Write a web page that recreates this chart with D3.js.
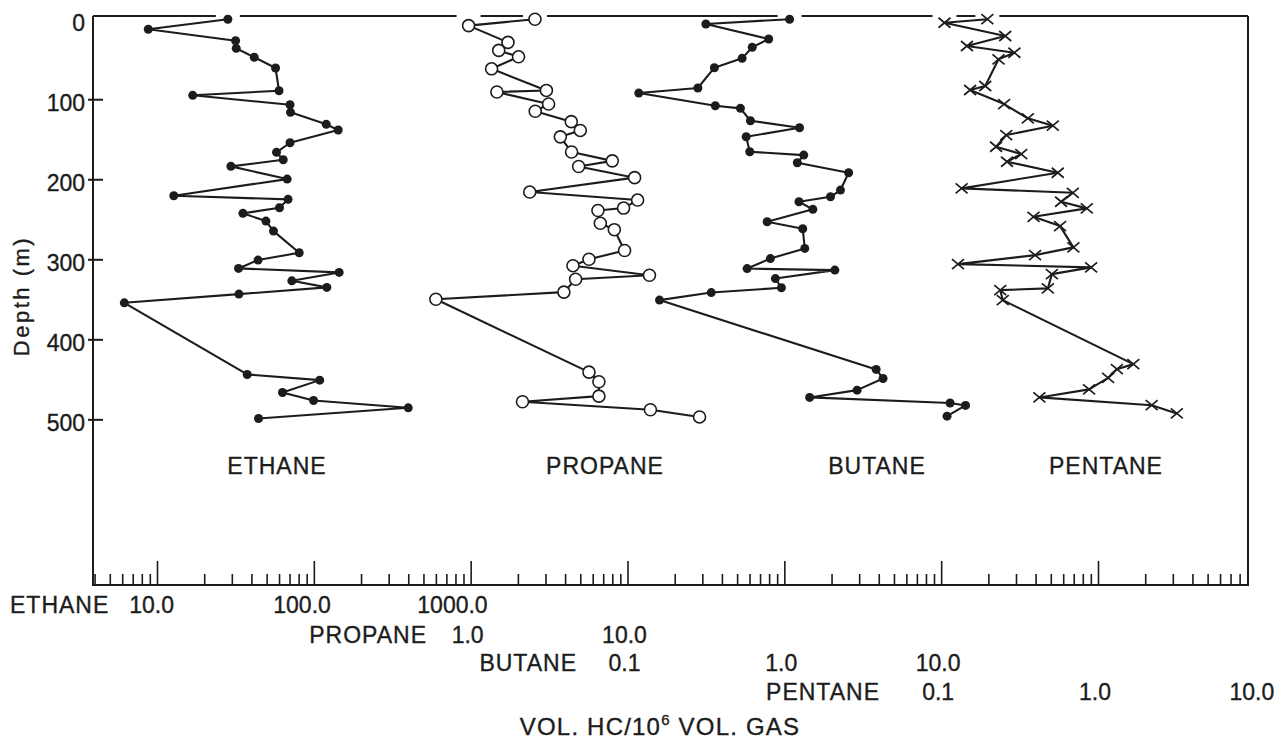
<!DOCTYPE html>
<html>
<head>
<meta charset="utf-8">
<script src="https://cdn.jsdelivr.net/npm/d3@7/dist/d3.min.js"></script>
<style>
  html, body { margin: 0; padding: 0; background: #fff; }
  svg text { font-family: "Liberation Sans", Arial, Helvetica, sans-serif; fill: #1c1c1c; stroke: #1c1c1c; stroke-width: 0.35px; }
</style>
</head>
<body>
<svg id="chart" width="1281" height="745"></svg>
<script>
// Gas in sediment vs depth. Depth in m, values in vol. HC / 10^6 vol. gas
var ethaneDepth = [0, 12.6, 26.9, 36.4, 47.6, 61, 89.4, 95.1, 106.9, 116.4, 131.4, 138.5, 154.4, 166.4, 175.6, 183.9, 199.8, 220.6, 225.1, 235.6, 242.6, 252.3, 264.8, 291.8, 301, 311.4, 316.4, 326.9, 335.1, 343.5, 354.4, 443.9, 451, 466.4, 476.4, 485.6, 498.9];
var ethaneValue = [28.3, 8.8, 31.7, 32, 41.7, 57, 60, 16.9, 70.5, 71, 120, 143, 70.5, 57.8, 63.8, 29.6, 67.6, 12.8, 68.5, 60.4, 35.3, 49.5, 55.3, 80.7, 44.1, 33.1, 145, 72.4, 121, 33.3, 6.19, 37.6, 109, 63.1, 99.6, 400, 44.4];

var propaneDepth = [0, 8, 29, 39, 47, 62, 89, 91, 106, 115, 128, 139, 147, 166, 177, 184, 198, 216, 226, 236, 239, 255, 263, 289, 300, 308, 320, 325, 341, 350, 441, 453, 471, 478, 488, 497];
var propaneValue = [2.57, 0.97, 1.73, 1.51, 2.02, 1.36, 3.04, 1.47, 3.14, 2.58, 4.38, 5.0, 3.73, 4.4, 8.0, 4.88, 11.1, 2.38, 11.6, 9.44, 6.48, 6.71, 8.24, 9.58, 5.68, 4.49, 13.8, 4.67, 3.93, 0.60, 5.68, 6.57, 6.57, 2.14, 14.0, 28.8];

var butaneDepth = [0, 6, 24.8, 35.1, 48.9, 60.6, 86, 92.3, 108.1, 111.4, 126.9, 135.6, 146.9, 165.6, 169.8, 179.4, 191.9, 213.5, 221.9, 228.1, 237.6, 253.1, 261.9, 286.4, 299.1, 311.6, 313.5, 324.1, 335.6, 341.6, 351, 437.6, 448.9, 463.5, 472.6, 479.6, 482.6, 496];
var butaneValue = [1.08, 0.316, 0.795, 0.624, 0.538, 0.358, 0.281, 0.118, 0.363, 0.525, 0.608, 1.25, 0.571, 0.602, 1.33, 1.21, 2.57, 2.28, 1.97, 1.24, 1.52, 0.777, 1.31, 1.35, 0.815, 0.579, 2.1, 0.877, 0.958, 0.342, 0.16, 3.85, 4.26, 2.91, 1.45, 11.4, 14.3, 10.9];

var pentaneDepth = [0, 4.4, 21, 33.5, 41.9, 50.1, 83.5, 88.5, 106, 123.9, 133.1, 144.8, 159.4, 168.5, 178.1, 191.9, 211.4, 216.9, 228.1, 236.4, 246.9, 258.5, 285.1, 294.8, 306, 310.1, 318.5, 336.4, 338.5, 351, 431, 437.3, 448.1, 462.6, 472.6, 482.3, 492.6];
var pentaneValue = [0.197, 0.105, 0.256, 0.146, 0.293, 0.232, 0.191, 0.153, 0.252, 0.357, 0.515, 0.26, 0.224, 0.324, 0.263, 0.554, 0.135, 0.691, 0.582, 0.848, 0.388, 0.573, 0.697, 0.397, 0.128, 0.904, 0.508, 0.479, 0.238, 0.247, 1.68, 1.32, 1.16, 0.877, 0.423, 2.2, 3.18];

// shared log axis: each gas is offset by a factor so its decades line up
var gasNames = ['ETHANE', 'PROPANE', 'BUTANE', 'PENTANE'];
var gasFactors = [1, 1000, 1e5, 1e7];
var ethaneTicks = [10, 100, 1000];
var propaneTicks = [1, 10];
var butaneTicks = [0.1, 1, 10];
var pentaneTicks = [0.1, 1, 10];
var depthTicks = [0, 100, 200, 300, 400, 500];

var ink = '#1c1c1c';
var frame = { left: 93, right: 1248, top: 16, bottom: 585 };

var svg = d3.select('#chart');
svg.append('rect').attr('width', 1281).attr('height', 745).attr('fill', '#fff');

var x = d3.scaleLog().domain([10, 1e7]).range([157, 1098]);
var y = d3.scaleLinear().domain([-4, 707]).range([frame.top, frame.bottom]);

var gases = [
  { depth: ethaneDepth, value: ethaneValue, ticks: ethaneTicks, marker: 'dot' },
  { depth: propaneDepth, value: propaneValue, ticks: propaneTicks, marker: 'ring' },
  { depth: butaneDepth, value: butaneValue, ticks: butaneTicks, marker: 'dot' },
  { depth: pentaneDepth, value: pentaneValue, ticks: pentaneTicks, marker: 'cross' }
].map(function(g, i) {
  g.name = gasNames[i];
  g.factor = gasFactors[i];
  g.points = g.depth.map(function(d, j) { return { depth: d, value: g.value[j] }; });
  return g;
});

function px(g, v) { return x(v * g.factor); }

// top frame line, broken where the shallowest samples sit
var gaps = [];
gases.forEach(function(g) {
  g.points.forEach(function(p) {
    if (p.depth < 9 && !(g.marker === 'dot' && p.depth > 3)) {
      var c = px(g, p.value);
      gaps.push([c - 12, c + 12]);
    }
  });
});
gaps.sort(function(a, b) { return a[0] - b[0]; });
var segs = [], cur = frame.left;
gaps.forEach(function(gp) {
  if (gp[0] > cur) segs.push([cur, gp[0]]);
  cur = Math.max(cur, gp[1]);
});
if (cur < frame.right) segs.push([cur, frame.right]);

svg.selectAll('line.top').data(segs).enter().append('line')
  .attr('class', 'top')
  .attr('x1', function(d) { return d[0]; })
  .attr('x2', function(d) { return d[1]; })
  .attr('y1', frame.top).attr('y2', frame.top)
  .attr('stroke', ink).attr('stroke-width', 2);

// left, right and bottom frame
svg.append('path')
  .attr('d', 'M' + frame.left + ',' + frame.top + 'V' + frame.bottom + 'H' + frame.right + 'V' + frame.top)
  .attr('fill', 'none').attr('stroke', ink).attr('stroke-width', 2);

// depth axis
var yAxis = svg.append('g')
  .attr('transform', 'translate(' + frame.left + ',0)')
  .call(d3.axisLeft(y).tickValues(depthTicks).tickSize(-10).tickPadding(8).tickFormat(d3.format('d')));
yAxis.select('.domain').remove();
yAxis.selectAll('.tick line')
  .attr('x1', -5).attr('stroke', ink).attr('stroke-width', 2)
  .filter(function(d) { return d === 0; }).remove();
yAxis.selectAll('.tick text')
  .attr('dy', '0.5em')
  .style('font-size', '23px').style('font-family', '"Liberation Sans", Arial, sans-serif').attr('fill', ink);

svg.append('text')
  .attr('transform', 'translate(29,296) rotate(-90)')
  .attr('text-anchor', 'middle')
  .style('font-size', '22px').style('letter-spacing', '2.5px')
  .text('Depth (m)');

// log ticks along the bottom
var logTicks = [];
for (var e = 0; e < 8; e++) {
  for (var m = 1; m < 10; m++) {
    var v = m * Math.pow(10, e);
    var p = x(v);
    if (p > frame.left + 1 && p < frame.right + 0.6) logTicks.push(v);
  }
}
function isDecade(v) { return Math.abs(Math.log10(v) - Math.round(Math.log10(v))) < 1e-9; }

var xAxis = svg.append('g')
  .attr('transform', 'translate(0,' + frame.bottom + ')')
  .call(d3.axisBottom(x).tickValues(logTicks).tickSize(0).tickFormat(''));
xAxis.select('.domain').remove();
xAxis.selectAll('.tick line')
  .attr('y2', function(d) { return isDecade(d) ? -24 : -11; })
  .attr('stroke', ink).attr('stroke-width', 1.6);

// per-gas scale labels under the axis
var rowLayout = [
  { baseline: 613, nameX: 10, nameAnchor: 'start', valAnchor: 'end', valDx: 17 },
  { baseline: 643, nameX: 427, nameAnchor: 'end', valAnchor: 'middle', valDx: -3 },
  { baseline: 671, nameX: 577, nameAnchor: 'end', valAnchor: 'middle', valDx: -3 },
  { baseline: 700, nameX: 880, nameAnchor: 'end', valAnchor: 'middle', valDx: -3 }
];
var fmt = d3.format('.1f');
gases.forEach(function(g, i) {
  var r = rowLayout[i];
  var row = svg.append('g').style('font-size', '23px');
  row.append('text')
    .attr('x', r.nameX).attr('y', r.baseline)
    .attr('text-anchor', r.nameAnchor)
    .style('letter-spacing', '1px')
    .text(g.name);
  row.selectAll('text.val').data(g.ticks).enter().append('text')
    .attr('class', 'val')
    .attr('x', function(t) { return px(g, t) + r.valDx; })
    .attr('y', r.baseline)
    .attr('text-anchor', r.valAnchor)
    .text(function(t) { return fmt(t); });
});

var title = svg.append('text')
  .attr('x', 660).attr('y', 735)
  .attr('text-anchor', 'middle')
  .style('font-size', '24px').style('letter-spacing', '1.2px');
title.append('tspan').text('VOL. HC/10');
title.append('tspan').attr('dy', -10).style('font-size', '15px').text('6');
title.append('tspan').attr('dy', 10).text(' VOL. GAS');

// gas name under each profile
var nameCenters = [277, 605, 877, 1106];
svg.selectAll('text.gas').data(gases).enter().append('text')
  .attr('class', 'gas')
  .attr('x', function(d, i) { return nameCenters[i]; })
  .attr('y', 474)
  .attr('text-anchor', 'middle')
  .style('font-size', '23px').style('letter-spacing', '1px')
  .text(function(d) { return d.name; });

// profiles
gases.forEach(function(g) {
  var line = d3.line()
    .x(function(p) { return px(g, p.value); })
    .y(function(p) { return y(p.depth); });

  var grp = svg.append('g');
  grp.append('path')
    .datum(g.points)
    .attr('d', line)
    .attr('fill', 'none').attr('stroke', ink).attr('stroke-width', 2.1)
    .attr('stroke-linejoin', 'round');

  var marks = grp.selectAll('g.mark').data(g.points).enter().append('g')
    .attr('transform', function(p) { return 'translate(' + px(g, p.value) + ',' + y(p.depth) + ')'; });

  if (g.marker === 'dot') {
    marks.append('circle').attr('r', 4.5).attr('fill', ink);
  } else if (g.marker === 'ring') {
    marks.append('circle').attr('r', 6).attr('fill', '#fff').attr('stroke', ink).attr('stroke-width', 1.6);
  } else {
    marks.append('path').attr('d', 'M-6,-5L6,5M-6,5L6,-5')
      .attr('stroke', ink).attr('stroke-width', 1.7).attr('fill', 'none');
  }
});
</script>
</body>
</html>
